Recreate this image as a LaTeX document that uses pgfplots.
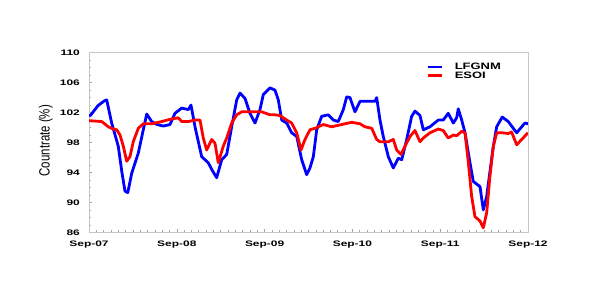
\documentclass[border=0pt]{standalone}
\usepackage{fontspec}
\setmainfont{Liberation Sans}
\usepackage{pgfplots}
\pgfplotsset{compat=1.18}
\newcommand{\tl}[1]{\scalebox{1.5}[1]{\fontsize{8}{9}\selectfont\bfseries #1}}
\newcommand{\lgd}[1]{\scalebox{1.4}[1]{\fontsize{9.3}{10}\selectfont\bfseries #1}}
\begin{document}
\begin{tikzpicture}
\path[use as bounding box] (0,0) rectangle (599bp,300bp);
\begin{axis}[
  at={(89bp,67.7bp)}, anchor=south west,
  scale only axis, width=439bp, height=179.6bp,
  xmin=0, xmax=60, ymin=86, ymax=110,
  xtick={0,12,24,36,48,60},
  xticklabels={\tl{Sep-07},\tl{Sep-08},\tl{Sep-09},\tl{Sep-10},\tl{Sep-11},\tl{Sep-12}},
  minor x tick num=11,
  ytick={86,90,94,98,102,106,110},
  yticklabels={\tl{86},\tl{90},\tl{94},\tl{98},\tl{102},\tl{106},\tl{110}},
  minor y tick num=3,
  xtick pos=bottom, ytick pos=left,
  axis line style={gray!45, line width=0.8bp},
  every tick/.style={gray!70, line width=0.6bp},
  major tick length=3bp, minor tick length=2.2bp,
  xticklabel style={anchor=north, inner sep=0pt, yshift=-8.5bp},
  yticklabel style={anchor=east, inner sep=0pt, xshift=-9bp},
  legend style={draw=none, fill=none, at={(0.768,0.952)}, anchor=north west,
    inner sep=0pt, row sep=-3.5bp, nodes={inner sep=2bp},
    /tikz/every odd column/.append style={column sep=10bp}},
  legend cell align=left,
]
\addplot[color=blue, line width=2.8bp, line join=round,
  legend image code/.code={\draw[blue, line width=2.4bp] (0bp,0.5bp) -- (14bp,0.5bp);}] coordinates {
(0,101.5) (0.27,101.7) (1.2,102.9) (2.0,103.5) (2.42,103.7) (3.10,100.6) (4.00,97.5)
(4.5,94.0) (4.92,91.5) (5.3,91.3) (5.84,93.9) (6.74,96.6) (7.42,99.7) (7.89,101.8)
(8.57,100.8) (9.3,100.4) (10.15,100.2) (11.07,100.4) (11.75,101.9) (12.67,102.6)
(13.57,102.4) (13.94,103.0) (14.49,100.1) (15.40,96.1) (16.30,95.3) (16.77,94.4)
(17.45,93.3) (18.14,95.7) (18.82,96.4) (19.50,100.1) (20.19,103.7) (20.64,104.6)
(21.32,103.9) (22.00,101.9) (22.69,100.6) (23.37,102.4) (23.82,104.4) (24.74,105.3)
(25.42,105.0) (25.87,103.7) (26.34,101.0) (27.02,100.6) (27.70,99.3) (28.39,98.8)
(29.07,95.7) (29.75,93.7) (30.20,94.6) (30.66,96.1) (31.12,99.7) (31.80,101.5)
(32.71,101.7) (33.39,101.0) (34.07,100.8) (34.76,102.4) (35.22,104.1) (35.67,104.0)
(36.35,102.1) (37.04,103.5) (38.17,103.5) (39.09,103.5) (39.32,104.0) (39.77,101.0)
(40.22,98.8) (40.91,96.1) (41.59,94.6) (42.27,95.9) (42.74,95.7) (43.42,98.4)
(44.10,101.5) (44.55,102.2) (45.24,101.6) (45.69,99.7) (46.60,100.1) (47.74,101.0)
(48.42,101.0) (49.10,101.9) (49.79,100.6) (50.25,101.3) (50.47,102.5) (50.94,101.0)
(51.39,99.3) (52.07,95.3) (52.52,92.8) (53.44,92.1) (53.89,89.0) (54.35,90.8)
(55.26,97.5) (55.72,100.1) (56.48,101.4) (57.30,100.8) (58.45,99.3) (59.58,100.6) (60.00,100.5)
};
\addlegendentry{\lgd{LFGNM}}
\addplot[red, line width=2.8bp, line join=round,
  legend image code/.code={\draw[red, line width=2.4bp] (0bp,0.5bp) -- (14bp,0.5bp);}] coordinates {
(0,100.9) (0.27,100.9) (1.74,100.8) (2.64,100.1) (3.32,99.8) (3.79,99.7) (4.24,99.0)
(4.69,97.5) (5.15,95.5) (5.60,96.1) (6.05,98.1) (6.74,99.9) (7.42,100.5) (8.57,100.5)
(9.94,100.8) (11.07,101.1) (12.20,101.3) (12.67,100.8) (13.57,100.8) (14.49,101.0)
(15.17,101.0) (15.62,98.6) (16.08,97.0) (16.77,98.4) (17.22,97.9) (17.67,95.3)
(18.35,97.5) (18.82,98.6) (19.50,100.6) (20.19,101.7) (20.87,102.1) (23.60,102.1)
(24.74,101.7) (25.42,101.7) (26.10,101.6) (27.02,101.0) (27.70,100.6) (28.39,99.3)
(28.97,97.0) (29.52,98.4) (30.20,99.7) (30.89,99.9) (32.02,100.4) (33.17,100.1)
(34.53,100.4) (35.90,100.7) (37.04,100.5) (37.72,100.1) (38.64,99.9) (39.32,98.4)
(39.77,98.1) (40.91,98.1) (41.59,98.4) (42.05,97.0) (42.64,96.4) (43.19,97.5)
(43.87,98.8) (44.55,99.6) (45.24,98.1) (45.69,98.6) (46.60,99.3) (47.74,99.8)
(48.42,99.6) (49.10,98.6) (49.79,99.0) (50.25,98.9) (50.94,99.5) (51.39,99.3)
(51.85,95.3) (52.30,90.8) (52.75,88.1) (53.44,87.5) (53.89,86.6) (54.35,88.6)
(54.80,93.5) (55.26,97.5) (55.72,99.3) (56.48,99.3) (57.30,99.2) (57.76,99.4)
(58.45,97.7) (59.13,98.4) (60.00,99.3)
};
\addlegendentry{\lgd{ESOI}}
\end{axis}
\node[rotate=90] at (45.7bp,159.3bp) {\scalebox{1}[1.3]{\fontsize{11.5}{13}\selectfont Countrate (\%)}};
\end{tikzpicture}
\end{document}
